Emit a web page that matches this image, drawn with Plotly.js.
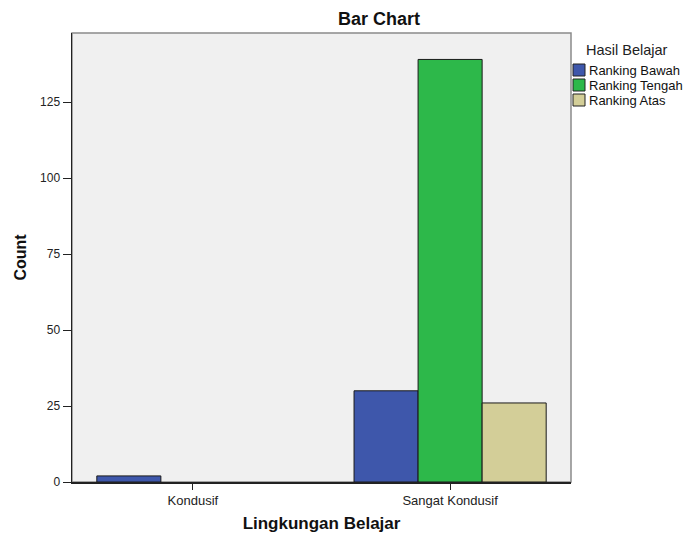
<!DOCTYPE html>
<html>
<head>
<meta charset="utf-8">
<script src="https://cdn.plot.ly/plotly-3.0.1.min.js"></script>
<style>html,body{margin:0;padding:0;background:#fff;}#chart{width:686px;height:535px;}</style>
</head>
<body>
<div id="chart"></div>
<script>
const categories = ["Kondusif", "Sangat Kondusif"];
const seriesNames = ["Ranking Bawah", "Ranking Tengah", "Ranking Atas"];
const rankingBawah = [2, 30];
const rankingTengah = [0, 139];
const rankingAtas = [0, 26];
const yTickVals = [0, 25, 50, 75, 100, 125];
const legendTitle = "Hasil Belajar";
const colors = ["#3E57AB", "#2DB84A", "#D3CE98"];

const seriesValues = [rankingBawah, rankingTengah, rankingAtas];
const traces = seriesValues.map((vals, i) => ({
  type: "bar",
  name: seriesNames[i],
  x: categories,
  y: vals,
  marker: {color: colors[i], line: {color: "#1a1a1a", width: vals.map(v => v === 0 ? 0 : 1)}},
  hoverinfo: "none",
  showlegend: false
}));

// plot-area geometry (pixels)
const L = 72, R = 571, T = 33, B = 482;
const W = 686, H = 535;
const px = v => (v - L) / (R - L);
const py = v => (B - v) / (B - T);

// legend built from the series names and colours
const shapes = [{
  type: "rect", xref: "paper", yref: "paper", x0: 0, x1: 1, y0: 0, y1: 1,
  line: {color: "#8a8a8a", width: 1.5}, layer: "below"
}];
const annotations = [{
  xref: "paper", yref: "paper", x: px(627), y: py(50), xanchor: "center", yanchor: "middle",
  text: legendTitle, showarrow: false, font: {size: 14.5, color: "#222"}
}];
seriesNames.forEach((name, i) => {
  const cy = 70 + i * 15;
  shapes.push({
    type: "rect", xref: "paper", yref: "paper",
    x0: px(573), x1: px(585), y0: py(cy + 6), y1: py(cy - 6),
    fillcolor: colors[i], line: {color: "#222", width: 1}
  });
  annotations.push({
    xref: "paper", yref: "paper", x: px(587), y: py(cy), xanchor: "left", yanchor: "middle",
    text: name, showarrow: false, font: {size: 13, color: "#111"}
  });
});

const layout = {
  width: W, height: H,
  margin: {l: L, r: W - R, t: T, b: H - B, autoexpand: false},
  paper_bgcolor: "#ffffff",
  plot_bgcolor: "#F0F0F0",
  font: {family: "Liberation Sans, Arial, sans-serif", size: 12, color: "#222"},
  barmode: "group",
  bargap: 0.253,
  bargroupgap: 0,
  showlegend: false,
  title: {text: "<b>Bar Chart</b>", xref: "paper", x: px(379), xanchor: "center", y: 1 - 19 / H, yanchor: "middle", font: {size: 18, color: "#111"}},
  xaxis: {
    type: "category",
    range: [-0.47, 1.47],
    showgrid: false, zeroline: false,
    showline: true, linecolor: "#222", linewidth: 1.5,
    ticks: "outside", ticklen: 6, tickcolor: "#222",
    tickfont: {size: 13, color: "#222"},
    title: {text: "<b>Lingkungan Belajar</b>", font: {size: 17, color: "#111"}, standoff: 10}
  },
  yaxis: {
    range: [0, 147.7],
    tickvals: yTickVals,
    showgrid: false, zeroline: false,
    showline: true, linecolor: "#222", linewidth: 1.5,
    ticks: "outside", ticklen: 8, tickcolor: "#222",
    tickfont: {size: 12, color: "#222"},
    title: {text: "<b>Count</b>", font: {size: 16, color: "#111"}, standoff: 9}
  },
  shapes: shapes,
  annotations: annotations
};

Plotly.newPlot("chart", traces, layout, {displayModeBar: false, staticPlot: true});
</script>
</body>
</html>
